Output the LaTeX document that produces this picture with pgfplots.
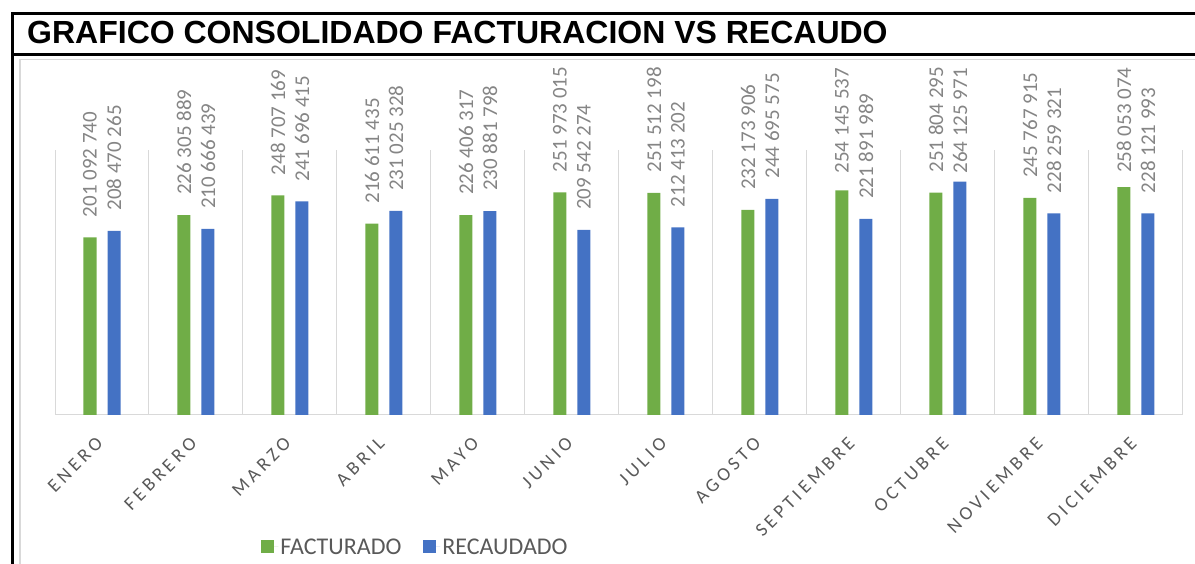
\documentclass[border=0pt]{standalone}
\usepackage{fontspec}
\setmainfont{Liberation Sans}
\newfontfamily\carlito{Carlito}
\newfontfamily\carlitosp[LetterSpace=20]{Carlito}
\usepackage{pgfplots}
\pgfplotsset{compat=1.18}
\definecolor{fgreen}{HTML}{70AD47}
\definecolor{rblue}{HTML}{4472C4}
\definecolor{lblgray}{HTML}{858585}
\definecolor{txtgray}{HTML}{595959}
\definecolor{gridgray}{HTML}{D9D9D9}
\begin{document}
\begin{tikzpicture}
\path[use as bounding box] (0,0) rectangle (1195pt,564pt);
\draw[gridgray, line width=1.2pt] (20pt,-5pt) -- (20pt,504.7pt) -- (1200pt,504.7pt);
\draw[black, line width=3pt] (12pt,-5pt) -- (12pt,550pt) -- (1200pt,550pt);
\draw[black, line width=2.5pt] (12pt,509.7pt) -- (1200pt,509.7pt);
\node[anchor=base west, font=\bfseries\fontsize{32}{32}\selectfont, inner sep=0pt] at (27pt,520pt) {GRAFICO CONSOLIDADO FACTURACION VS RECAUDO};
\begin{axis}[
  at={(55pt,149pt)}, anchor=south west,
  width=1128pt, height=265pt, scale only axis,
  xmin=-0.5, xmax=11.5, ymin=0, ymax=300000000,
  axis x line=bottom, axis y line=none,
  x axis line style={-, draw=gridgray, line width=1pt},
  xtick={0,...,11},
  xticklabels={ENERO,FEBRERO,MARZO,ABRIL,MAYO,JUNIO,JULIO,AGOSTO,SEPTIEMBRE,OCTUBRE,NOVIEMBRE,DICIEMBRE},
  minor xtick={-0.5,0.5,...,11.5},
  xminorgrids=true,
  minor grid style={draw=gridgray, line width=1pt},
  major tick length=0pt, minor tick length=0pt,
  ytick=\empty,
  x tick label style={font=\carlitosp\fontsize{19}{19}\selectfont, text=txtgray, xshift=-7pt, yshift=-3pt, rotate=45, anchor=north east, inner sep=0pt},
  xticklabel shift=18pt,
  ybar, bar width=13pt,
  point meta=explicit symbolic,
  nodes near coords,
  every node near coord/.append style={rotate=90, anchor=west, font=\carlito\fontsize{21}{21}\selectfont, text=lblgray, inner xsep=20pt, inner ysep=0pt},
  legend image code/.code={\path (0pt,0pt) -- (17pt,0pt);\fill[#1] (0pt,-6.5pt) rectangle (13pt,6.5pt);},
  legend style={at={(0.3196,-0.498)}, anchor=center, draw=none, fill=none, legend columns=2,
    font=\carlito\fontsize{24}{24}\selectfont, text=txtgray,
    /tikz/every even column/.append style={column sep=20pt}},
  legend cell align=left,
]
\addplot[fill=fgreen, draw=none, bar shift=-12pt] coordinates {
 (0,201092740) [201 092 740]
 (1,226305889) [226 305 889]
 (2,248707169) [248 707 169]
 (3,216611435) [216 611 435]
 (4,226406317) [226 406 317]
 (5,251973015) [251 973 015]
 (6,251512198) [251 512 198]
 (7,232173906) [232 173 906]
 (8,254145537) [\hspace*{-3pt}254 145 537]
 (9,251804295) [251 804 295]
 (10,245767915) [245 767 915]
 (11,258053074) [\hspace*{-6pt}258 053 074]
};
\addplot[fill=rblue, draw=none, bar shift=12pt] coordinates {
 (0,208470265) [208 470 265]
 (1,210666439) [210 666 439]
 (2,241696415) [241 696 415]
 (3,231025328) [231 025 328]
 (4,230881798) [230 881 798]
 (5,209542274) [209 542 274]
 (6,212413202) [212 413 202]
 (7,244695575) [244 695 575]
 (8,221891989) [221 891 989]
 (9,264125971) [\hspace*{-12pt}264 125 971]
 (10,228259321) [228 259 321]
 (11,228121993) [228 121 993]
};
\legend{FACTURADO, RECAUDADO}
\end{axis}
\end{tikzpicture}
\end{document}
